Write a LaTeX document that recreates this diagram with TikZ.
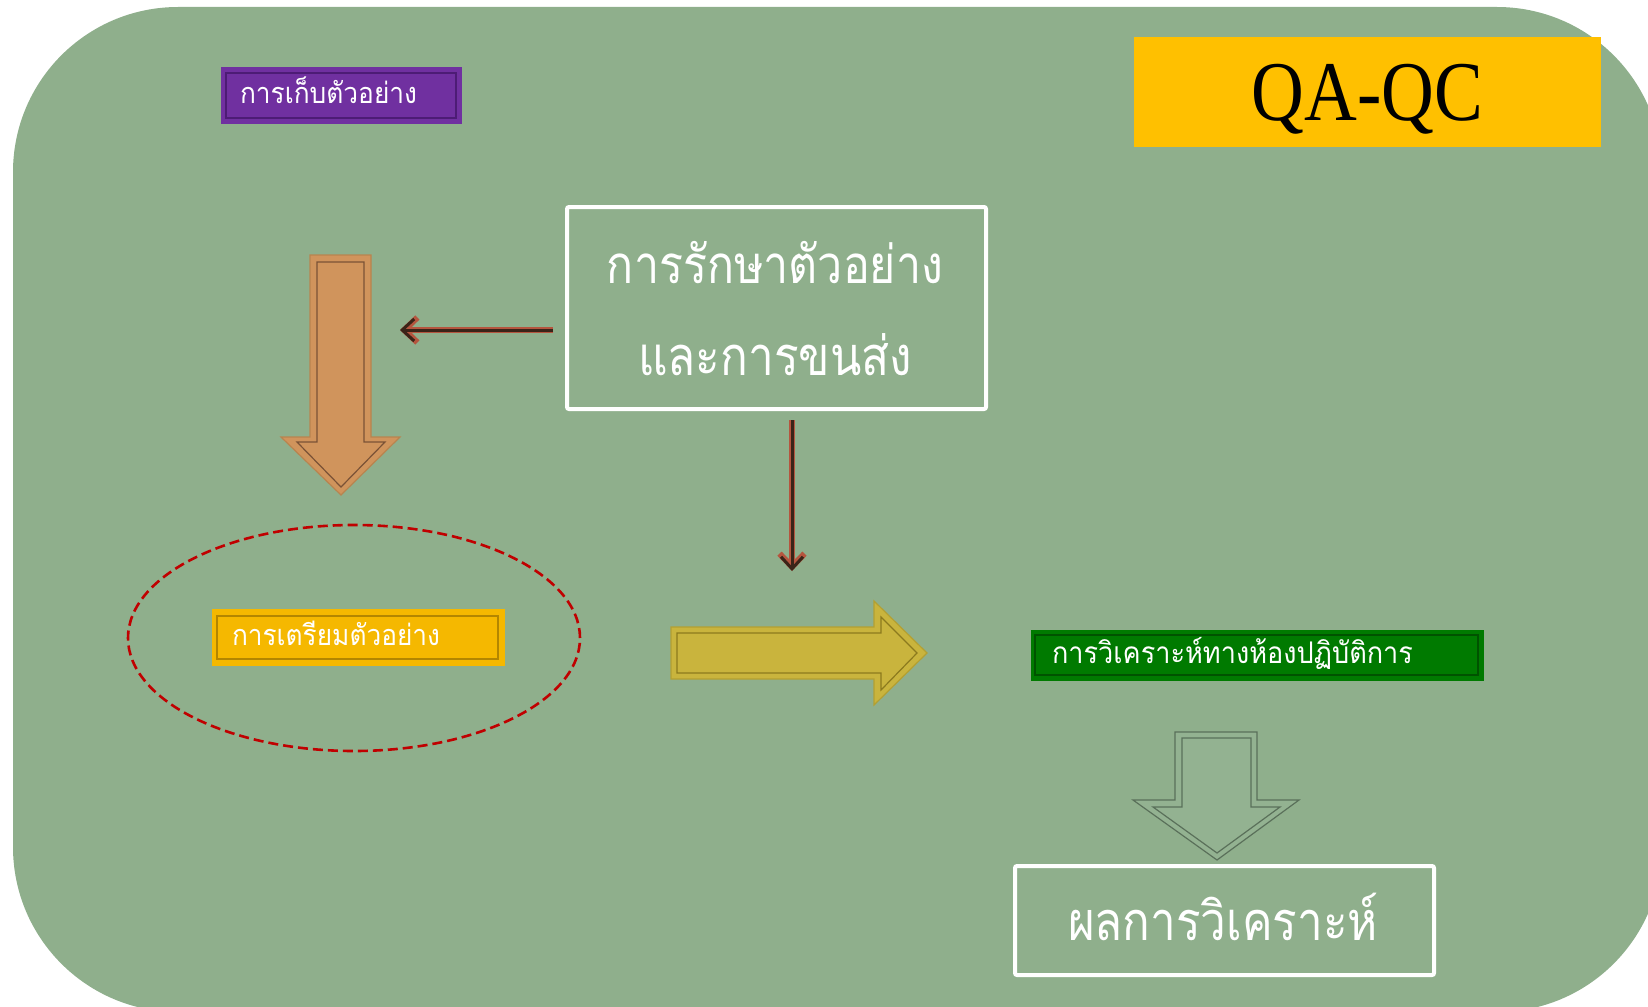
\documentclass[tikz,border=0pt]{standalone}
\usepackage{fontspec}
\usepackage{graphicx}
\setmainfont{Liberation Serif}
\newfontfamily\thaifont[Script=Thai]{Loma}
\usetikzlibrary{arrows.meta,calc}

\definecolor{bg}{HTML}{8FAF8C}
\definecolor{purpleF}{HTML}{7030A0}
\definecolor{purpleI}{HTML}{4D1C75}
\definecolor{prepF}{HTML}{F5B800}
\definecolor{prepI}{HTML}{B38600}
\definecolor{labF}{HTML}{007A00}
\definecolor{labI}{HTML}{005200}
\definecolor{qaF}{HTML}{FFC000}
\definecolor{orF}{HTML}{D0945C}
\definecolor{orO}{HTML}{B8844F}
\definecolor{orI}{HTML}{7A5236}
\definecolor{yaF}{HTML}{C9B43D}
\definecolor{yaO}{HTML}{B3A032}
\definecolor{yaI}{HTML}{8C7A1E}
\definecolor{gaF}{HTML}{93B291}
\definecolor{gaL}{HTML}{5A705A}
\definecolor{dashRed}{HTML}{C00000}
\definecolor{arCore}{HTML}{3A2418}
\definecolor{arGlow}{HTML}{B5553E}

% Thai text set to a given width, then stretched vertically
\newcommand\thw[3][1.1]{\scalebox{1}[#1]{\resizebox{#2pt}{!}{\fontsize{40}{48}\selectfont\thaifont #3}}}

\begin{document}
\begin{tikzpicture}[x=1pt,y=-1pt,
  lbl/.style={inner sep=0pt,text=white,anchor=base west},
  bigtxt/.style={inner sep=0pt,text=white,anchor=base},
  tagbox/.style={draw=none,inner sep=0pt},
  whitebox/.style={draw=white,line width=4pt,rounded corners=2pt,inner sep=0pt},
  innerline/.style={line width=1.6pt},
  thinglow/.style={arGlow,line width=6pt,-{Straight Barb[length=13pt,width=25pt,line width=6pt]}},
  thincore/.style={arCore,line width=3pt,-{Straight Barb[length=12pt,width=22pt,line width=3pt]}},
  blockline/.style={line width=1.2pt,line join=miter}]

\useasboundingbox (0,0) rectangle (1648,1006);
\clip (0,0) rectangle (1648,1006);

% green panel
\fill[bg,rounded corners=165pt] (13,7) rectangle (1662,1012);

% QA-QC banner
\node[tagbox,fill=qaF,minimum width=467pt,minimum height=110pt] (qa) at (1367.5,92) {};
\node[inner sep=0pt,anchor=base] (qaT) at ($(qa.center)+(0,29)$)
  {\fontsize{85}{85}\selectfont\scalebox{0.86}[1]{QA-QC}};

% sample collection tag
\node[tagbox,fill=purpleF,minimum width=241pt,minimum height=57pt] (collect) at (341.5,95.5) {};
\draw[purpleI,innerline] (226,73) rectangle (456,118);
\node[lbl] (collectT) at ($(collect.west)+(19,7.5)$) {\thw{177}{การเก็บตัวอย่าง}};

% storage and transport box
\node[whitebox,minimum width=419pt,minimum height=202pt] (store) at (776.5,308) {};
\node[bigtxt] (storeA) at ($(store.center)+(-1.5,-25)$) {\thw[1.18]{336}{การรักษาตัวอย่าง}};
\node[bigtxt] (storeB) at ($(store.center)+(-1.5,67)$) {\thw[1.18]{274}{และการขนส่ง}};

% orange down arrow
\filldraw[fill=orF,draw=orO,blockline]
  (310,255) -- (371,255) -- (371,437) -- (400,437) -- (341,495) -- (281,437) -- (310,437) -- cycle;
\draw[orI,blockline]
  (317,262) -- (364,262) -- (364,442) -- (385,442) -- (341,487) -- (297,442) -- (317,442) -- cycle;

% thin arrows from the storage box
\coordinate (lfrom) at ($(store.west)+(-12,22)$);
\coordinate (lto) at (400,330);
\draw[thinglow] (lfrom) -- (lto);
\draw[thincore] (lfrom) -- (lto);
\coordinate (dfrom) at ($(store.south)+(15.5,9)$);
\coordinate (dto) at (792,571);
\draw[thinglow] (dfrom) -- (dto);
\draw[thincore] (dfrom) -- (dto);

% sample preparation
\draw[dashRed,line width=2.6pt,dash pattern=on 10pt off 5pt] (354,638) ellipse [x radius=226pt,y radius=113pt];
\node[tagbox,fill=prepF,minimum width=293pt,minimum height=57pt] (prep) at (358.5,637.5) {};
\draw[prepI,innerline] (217,616) rectangle (498,659);
\node[lbl] (prepT) at ($(prep.west)+(20,7.5)$) {\thw{208}{การเตรียมตัวอย่าง}};

% yellow right arrow
\filldraw[fill=yaF,draw=yaO,blockline]
  (671,627) -- (874,627) -- (874,601) -- (927,653) -- (874,705) -- (874,679) -- (671,679) -- cycle;
\draw[yaI,blockline]
  (677,633) -- (881,633) -- (881,617) -- (917,653) -- (881,690) -- (881,673) -- (677,673) -- cycle;

% laboratory analysis
\node[tagbox,fill=labF,minimum width=453pt,minimum height=51pt] (lab) at (1257.5,655.5) {};
\draw[labI,innerline] (1035,635) rectangle (1478,675);
\node[lbl] (labT) at ($(lab.west)+(21,7.5)$) {\thw{361}{การวิเคราะห์ทางห้องปฏิบัติการ}};

% green outlined down arrow
\filldraw[fill=gaF,draw=gaL,blockline]
  (1175,732) -- (1257,732) -- (1257,800) -- (1299,800) -- (1217,860) -- (1133,800) -- (1175,800) -- cycle;
\draw[gaL,blockline]
  (1182,738) -- (1251,738) -- (1251,807) -- (1280,807) -- (1217,853) -- (1153,807) -- (1182,807) -- cycle;

% analysis result box
\node[whitebox,minimum width=419pt,minimum height=109pt] (result) at (1224.5,920.5) {};
\node[bigtxt] (resultT) at ($(result.center)+(-1.5,19.5)$) {\thw[1.18]{310}{ผลการวิเคราะห์}};

\end{tikzpicture}
\end{document}
